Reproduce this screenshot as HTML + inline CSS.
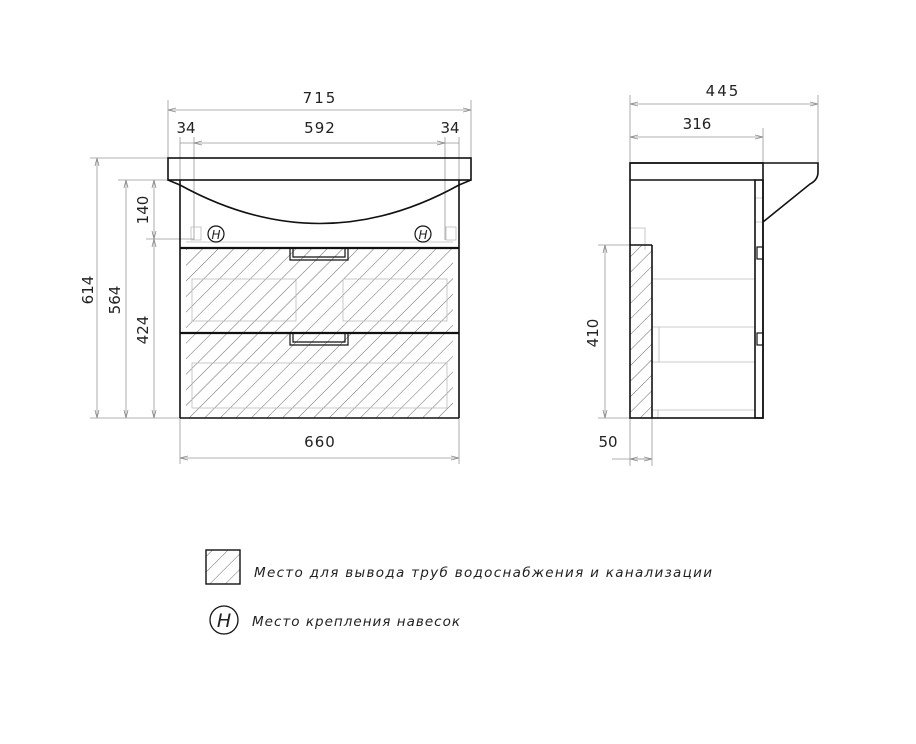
<!DOCTYPE html>
<html><head><meta charset="utf-8"><style>
html,body{margin:0;padding:0;background:#fff;width:916px;height:744px;overflow:hidden}
text{font-family:"DejaVu Sans","Liberation Sans",sans-serif;fill:#222}
</style></head><body>
<svg width="916" height="744" viewBox="0 0 916 744" xmlns="http://www.w3.org/2000/svg">
<defs>
<pattern id="h" patternUnits="userSpaceOnUse" width="11" height="11" patternTransform="rotate(45)">
<line x1="0" y1="0" x2="0" y2="11" stroke="#444" stroke-width="0.8"/>
</pattern>
<marker id="a" markerWidth="8" markerHeight="6" refX="8" refY="3" orient="auto-start-reverse" markerUnits="userSpaceOnUse">
<path d="M0,1 L8,3 L0,5" fill="none" stroke="#888" stroke-width="0.8"/>
</marker>
</defs>
<g stroke="#999" stroke-width="0.8" fill="none">
<line x1="168" y1="100" x2="168" y2="158"/><line x1="471" y1="100" x2="471" y2="158"/>
<line x1="168" y1="110" x2="471" y2="110" marker-start="url(#a)" marker-end="url(#a)"/>
<line x1="180" y1="137" x2="180" y2="180"/><line x1="194" y1="137" x2="194" y2="240"/>
<line x1="445" y1="137" x2="445" y2="240"/><line x1="459" y1="137" x2="459" y2="180"/>
<line x1="180" y1="143" x2="194" y2="143"/><line x1="194" y1="143" x2="445" y2="143" marker-start="url(#a)" marker-end="url(#a)"/>
<line x1="445" y1="143" x2="459" y2="143"/>
<line x1="90" y1="158" x2="168" y2="158"/><line x1="118" y1="180" x2="180" y2="180"/>
<line x1="146" y1="239" x2="194" y2="239"/><line x1="90" y1="418" x2="180" y2="418"/>
<line x1="97" y1="158" x2="97" y2="418" marker-start="url(#a)" marker-end="url(#a)"/>
<line x1="126" y1="180" x2="126" y2="418" marker-start="url(#a)" marker-end="url(#a)"/>
<line x1="154" y1="180" x2="154" y2="239" marker-start="url(#a)" marker-end="url(#a)"/>
<line x1="154" y1="239" x2="154" y2="418" marker-start="url(#a)" marker-end="url(#a)"/>
<line x1="180" y1="418" x2="180" y2="464"/><line x1="459" y1="418" x2="459" y2="464"/>
<line x1="180" y1="458" x2="459" y2="458" marker-start="url(#a)" marker-end="url(#a)"/>
<line x1="630" y1="95" x2="630" y2="163"/><line x1="818" y1="95" x2="818" y2="163"/>
<line x1="630" y1="104" x2="818" y2="104" marker-start="url(#a)" marker-end="url(#a)"/>
<line x1="763" y1="128" x2="763" y2="180"/>
<line x1="630" y1="137" x2="763" y2="137" marker-start="url(#a)" marker-end="url(#a)"/>
<line x1="598" y1="245" x2="652" y2="245"/><line x1="598" y1="418" x2="630" y2="418"/>
<line x1="605" y1="245" x2="605" y2="418" marker-start="url(#a)" marker-end="url(#a)"/>
<line x1="630" y1="418" x2="630" y2="466"/><line x1="652" y1="418" x2="652" y2="466"/>
<line x1="612" y1="459" x2="652" y2="459"/><line x1="630" y1="459" x2="652" y2="459" marker-start="url(#a)" marker-end="url(#a)"/>
</g>
<rect x="186" y="248" width="267" height="170" fill="url(#h)"/>
<g stroke="#bbb" stroke-width="0.8" fill="none">
<rect x="192" y="279" width="104" height="42"/><rect x="343" y="279" width="104" height="42"/>
<rect x="192" y="363" width="255" height="45"/>
<rect x="191" y="227" width="10" height="13"/><rect x="446" y="227" width="10" height="13"/>
<line x1="186" y1="242" x2="453" y2="242"/>
</g>
<g stroke="#111" stroke-width="1.6" fill="none">
<rect x="168" y="158" width="303" height="22"/>
<path d="M168,180 L180,185 M471,180 L459,185"/>
<line x1="180" y1="180" x2="180" y2="418"/><line x1="459" y1="180" x2="459" y2="418"/>
<path d="M180,185 Q320,262 459,185"/>
<line x1="180" y1="248" x2="459" y2="248" stroke-width="2.2"/>
<line x1="180" y1="333" x2="459" y2="333" stroke-width="2.2"/>
<line x1="180" y1="418" x2="459" y2="418"/>
<path d="M290,248 V260 H348 V248 M293,248 V257 H345 V248" stroke-width="1.2"/>
<path d="M290,333 V345 H348 V333 M293,333 V342 H345 V333" stroke-width="1.2"/>
<circle cx="216" cy="234" r="8" stroke-width="1.2"/><circle cx="423" cy="234" r="8" stroke-width="1.2"/>
</g>
<text x="216" y="239" font-size="12" font-style="italic" text-anchor="middle">H</text>
<text x="423" y="239" font-size="12" font-style="italic" text-anchor="middle">H</text>
<rect x="630" y="245" width="22" height="173" fill="url(#h)"/>
<g stroke="#bbb" stroke-width="0.8" fill="none">
<path d="M630,228 H645 V250 M652,279 H755 M652,327 H755 M652,327 H659 V362 M652,362 H755 M652,410 H755 M658,410 V418 M755,198 H763 M755,222 H763"/>
</g>
<g stroke="#111" stroke-width="1.6" fill="none">
<path d="M630,163 H818 V172 Q818,180 810,184 L763,222"/>
<line x1="630" y1="180" x2="755" y2="180"/>
<rect x="630" y="163" width="133" height="255"/>
<rect x="755" y="180" width="8" height="238"/>
<line x1="630" y1="245" x2="652" y2="245"/><line x1="652" y1="245" x2="652" y2="418"/>
<rect x="757" y="247" width="6" height="12" stroke-width="1.2"/>
<rect x="757" y="333" width="6" height="12" stroke-width="1.2"/>
</g>
<g font-size="15" text-anchor="middle">
<text x="320" y="103" letter-spacing="2">715</text>
<text x="186" y="133">34</text>
<text x="320" y="133" letter-spacing="1">592</text>
<text x="450" y="133">34</text>
<text x="320" y="447" letter-spacing="1">660</text>
<text x="723" y="96" letter-spacing="2">445</text>
<text x="697" y="129">316</text>
<text x="608" y="447">50</text>
<text transform="translate(93,290) rotate(-90)">614</text>
<text transform="translate(120,300) rotate(-90)">564</text>
<text transform="translate(148,210) rotate(-90)">140</text>
<text transform="translate(148,330) rotate(-90)">424</text>
<text transform="translate(598,333) rotate(-90)">410</text>
</g>
<rect x="206" y="550" width="34" height="34" fill="url(#h)" stroke="#111" stroke-width="1.4"/>
<text x="254" y="577" font-size="13.5" font-style="italic" textLength="458" lengthAdjust="spacing">Место для вывода труб водоснабжения и канализации</text>
<circle cx="224" cy="620" r="14" fill="none" stroke="#111" stroke-width="1.3"/>
<text x="224" y="627" font-size="19" font-style="italic" text-anchor="middle">H</text>
<text x="252" y="626" font-size="13.5" font-style="italic" textLength="208" lengthAdjust="spacing">Место крепления навесок</text>
</svg>
</body></html>
